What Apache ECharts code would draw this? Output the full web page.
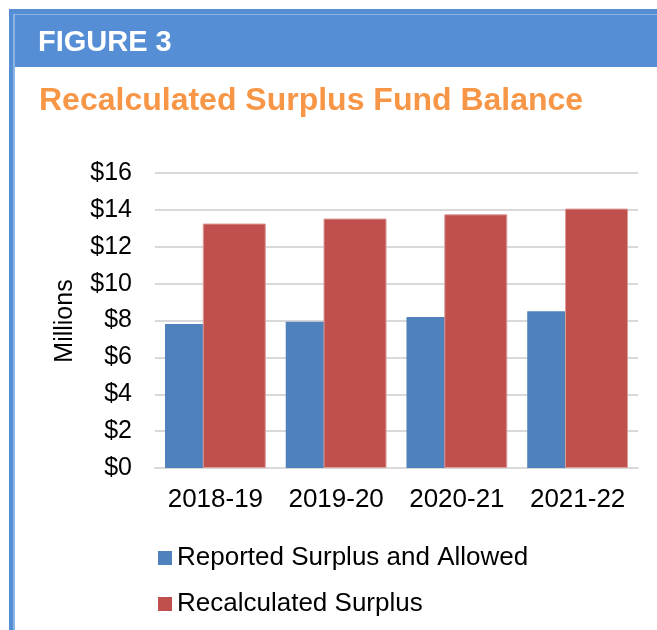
<!DOCTYPE html>
<html>
<head>
<meta charset="utf-8">
<script src="https://cdn.jsdelivr.net/npm/echarts@6/dist/echarts.min.js"></script>
<style>
html,body{margin:0;padding:0;background:#fff;}
#chart{width:657px;height:630px;}
</style>
</head>
<body>
<div id="chart"></div>
<script>
const categories = ['2018-19', '2019-20', '2020-21', '2021-22'];
const reportedSurplus = [7.81, 7.93, 8.19, 8.50];
const recalculatedSurplus = [13.26, 13.53, 13.76, 14.07];
const seriesNames = ['Reported Surplus and Allowed', 'Recalculated Surplus'];
const figureLabel = 'FIGURE 3';
const chartTitle = 'Recalculated Surplus Fund Balance';
const yAxisTitle = 'Millions';

const FONT = '"Liberation Sans", Arial, sans-serif';
const chart = echarts.init(document.getElementById('chart'), null, {renderer: 'canvas'});

chart.setOption({
  animation: false,
  backgroundColor: '#ffffff',
  graphic: [
    {type: 'rect', shape: {x: 9, y: 9, width: 648, height: 58}, style: {fill: '#558ED5'}, z: 1},
    {type: 'rect', shape: {x: 9, y: 9, width: 6, height: 621}, style: {fill: '#558ED5'}, z: 1},
    {type: 'rect', shape: {x: 13, y: 14, width: 2, height: 616}, style: {fill: '#8DB4E2'}, z: 2},
    {type: 'rect', shape: {x: 14, y: 14, width: 643, height: 1}, style: {fill: '#8DB4E2'}, z: 2},
    {type: 'text', x: 38, y: 42.5, style: {text: figureLabel, fill: '#ffffff', font: 'bold 29px ' + FONT, textVerticalAlign: 'middle', textAlign: 'left'}, z: 3},
    {type: 'text', x: 39, y: 101, style: {text: chartTitle, fill: '#F79646', font: 'bold 32px ' + FONT, textVerticalAlign: 'middle', textAlign: 'left'}, z: 3},
    {type: 'text', x: 65, y: 321, rotation: Math.PI / 2, style: {text: yAxisTitle, fill: '#000000', font: '25px ' + FONT, textVerticalAlign: 'middle', textAlign: 'center'}, z: 3}
  ],
  grid: {left: 155, right: 19, top: 173, bottom: 162, containLabel: false},
  legend: {
    orient: 'vertical',
    left: 153,
    top: 540,
    itemWidth: 14,
    itemHeight: 14,
    itemGap: 20,
    icon: 'rect',
    itemStyle: {borderWidth: 0},
    textStyle: {fontFamily: FONT, fontSize: 26, color: '#000000'},
    data: seriesNames
  },
  xAxis: {
    type: 'category',
    data: categories,
    axisLine: {show: true, lineStyle: {color: '#d9d9d9', width: 2}},
    axisTick: {show: false},
    axisLabel: {interval: 0, fontFamily: FONT, fontSize: 26, color: '#000000', margin: 19}
  },
  yAxis: {
    type: 'value',
    min: 0,
    max: 16,
    interval: 2,
    axisLine: {show: false},
    axisTick: {show: false},
    splitLine: {lineStyle: {color: '#d9d9d9', width: 2}},
    axisLabel: {fontFamily: FONT, fontSize: 25, color: '#000000', margin: 23, formatter: v => '$' + v}
  },
  series: [
    {
      name: seriesNames[0],
      type: 'bar',
      data: reportedSurplus,
      barWidth: 63,
      barGap: '-40%',
      itemStyle: {color: '#4F81BD'}
    },
    {
      name: seriesNames[1],
      type: 'bar',
      data: recalculatedSurplus,
      barWidth: 63,
      barGap: '-40%',
      itemStyle: {color: '#C0504D', borderColor: '#DB9B99', borderWidth: 1}
    }
  ]
});
</script>
</body>
</html>
